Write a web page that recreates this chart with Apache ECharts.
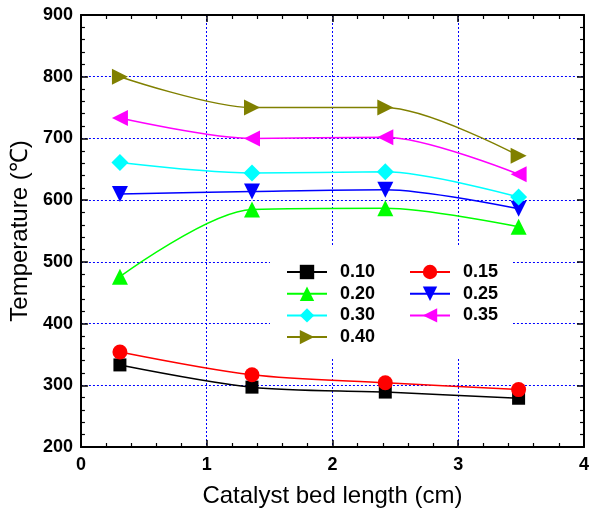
<!DOCTYPE html>
<html>
<head>
<meta charset="utf-8">
<script src="https://cdn.jsdelivr.net/npm/echarts@6/dist/echarts.min.js"></script>
<style>html,body{margin:0;padding:0;background:#fff}#c{width:592px;height:515px}</style>
</head>
<body>
<div id="c"></div>
<script>
var xPos = [0.31, 1.36, 2.42, 3.48];
var names = ['0.10', '0.15', '0.20', '0.25', '0.30', '0.35', '0.40'];
var s010 = [333, 297, 289, 279];
var s015 = [354, 317, 304, 293];
var s020 = [476, 585, 587, 557];
var s025 = [610, 614, 617, 586];
var s030 = [661, 644, 646, 605];
var s035 = [733, 700, 702, 642];
var s040 = [800, 750, 750, 672];
var xTicks = [0, 1, 2, 3, 4];
var yTicks = [200, 300, 400, 500, 600, 700, 800, 900];

var values = [s010, s015, s020, s025, s030, s035, s040];
var colors = ['#000000', '#ff0000', '#00ff00', '#0000ff', '#00ffff', '#ff00ff', '#808000'];
var symbols = ['rect', 'circle', 'triangle', 'triangle', 'diamond', 'triangle', 'triangle'];
var rotates = [0, 0, 0, 180, 0, 90, -90];
var sizes = [13, 15, 16, 16, 17, 16, 16];

function pairs(v) { return v.map(function (y, i) { return [xPos[i], y]; }); }

var series = names.map(function (n, i) {
  return {
    name: n, type: 'line', xAxisIndex: 0, yAxisIndex: 0,
    data: pairs(values[i]), smooth: 0.3,
    symbol: symbols[i], symbolSize: sizes[i], symbolRotate: rotates[i],
    showAllSymbol: true,
    lineStyle: { color: colors[i], width: 1.5 },
    itemStyle: { color: colors[i], borderWidth: 0 },
    z: 2 + i
  };
});

var tickLabelStyle = { fontFamily: 'Liberation Sans', fontWeight: 'bold', fontSize: 18, color: '#000' };
var nameStyle = { fontFamily: 'Liberation Sans', fontSize: 24, color: '#000' };
var splitStyle = { show: true, lineStyle: { color: '#0000ff', type: [2, 2], width: 1 } };
function baseAxis(extra) {
  return Object.assign({
    type: 'value',
    axisLine: { show: true, onZero: false, lineStyle: { color: '#000', width: 2 } },
    axisTick: { show: true, inside: true, length: 7, lineStyle: { color: '#000', width: 1.5 } },
    minorTick: { show: true, splitNumber: 5, length: 4, lineStyle: { color: '#000', width: 1.2 } },
    splitLine: { show: false }
  }, extra);
}

var legendText = { fontFamily: 'Liberation Sans', fontWeight: 'bold', fontSize: 18, color: '#000', padding: [0, 0, 0, 8] };

var option = {
  backgroundColor: '#fff',
  animation: false,
  grid: { left: 80, right: 6, top: 15, bottom: 68, containLabel: false },
  xAxis: [
    baseAxis({ position: 'bottom', min: 0, max: 4, interval: 1,
      axisLabel: Object.assign({ margin: 9 }, tickLabelStyle),
      splitLine: splitStyle,
      name: 'Catalyst bed length (cm)', nameLocation: 'middle', nameGap: 37, nameTextStyle: nameStyle }),
    baseAxis({ position: 'top', min: 0, max: 4, interval: 1, axisLabel: { show: false } })
  ],
  yAxis: [
    baseAxis({ position: 'left', min: 200, max: 900, interval: 100,
      axisLabel: Object.assign({ margin: 8 }, tickLabelStyle),
      splitLine: splitStyle,
      name: 'Temperature (\u2103)', nameLocation: 'middle', nameGap: 48, nameTextStyle: nameStyle }),
    baseAxis({ position: 'right', min: 200, max: 900, interval: 100, axisLabel: { show: false } })
  ],
  legend: [
    { data: ['0.10', '0.20', '0.30', '0.40'], orient: 'vertical', left: 286, top: 263,
      itemWidth: 40, itemHeight: 18, itemGap: 3.7, padding: 0, textStyle: legendText },
    { data: ['0.15', '0.25', '0.35'], orient: 'vertical', left: 409, top: 263,
      itemWidth: 40, itemHeight: 18, itemGap: 3.7, padding: 0, textStyle: legendText }
  ],
  graphic: [
    { type: 'rect', shape: { x: 270, y: 245, width: 243, height: 112 }, style: { fill: '#fff' }, z: 1, silent: true }
  ],
  series: series
};

var chart = echarts.init(document.getElementById('c'), null, { renderer: 'canvas' });
chart.setOption(option);
</script>
</body>
</html>
